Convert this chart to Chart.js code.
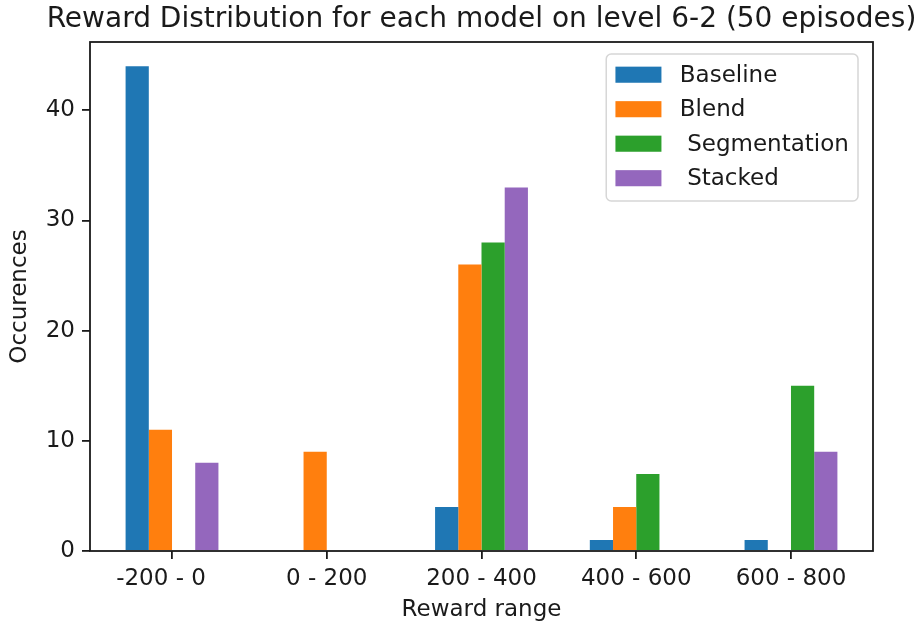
<!DOCTYPE html>
<html>
<head>
<meta charset="utf-8">
<script src="https://cdn.jsdelivr.net/npm/chart.js@4.4.0/dist/chart.umd.min.js"></script>
<style>
  html, body { margin: 0; padding: 0; background: #fff; }
  canvas { display: block; }
</style>
</head>
<body>
<canvas id="rewardChart" width="915" height="626"></canvas>
<script>
// reward bins and episode counts per model
const rewardRanges = ['-200 - 0   ', '0 - 200', '200 - 400', '400 - 600', '600 - 800'];
const modelNames = ['Baseline', 'Blend', ' Segmentation', ' Stacked'];
const baseline = [44, 0, 4, 1, 1];
const blend = [11, 9, 26, 4, 0];
const segmentation = [0, 0, 28, 7, 15];
const stacked = [8, 0, 33, 0, 9];
const yTicks = [0, 10, 20, 30, 40];

const chartTitle = 'Reward Distribution for each model on level 6-2 (50 episodes)';
const modelColors = ['#1f77b4', '#ff7f0e', '#2ca02c', '#9467bd'];
const FONT = '"DejaVu Sans", sans-serif';
const INK = '#1a1a1a';

// title centred over the axes box, plus the four spines
const axesFrame = {
    id: 'axesFrame',
    afterDraw(chart) {
        const { ctx, chartArea: a } = chart;
        ctx.save();
        ctx.strokeStyle = INK;
        ctx.lineWidth = 1.8;
        ctx.strokeRect(a.left, a.top, a.right - a.left, a.bottom - a.top);

        ctx.font = '28px ' + FONT;
        ctx.fillStyle = INK;
        ctx.textAlign = 'center';
        ctx.textBaseline = 'alphabetic';
        ctx.fillText(chartTitle, (a.left + a.right) / 2, a.top - 15);
        ctx.restore();
    }
};

// boxed legend in the upper right corner of the axes
const boxLegend = {
    id: 'boxLegend',
    afterDraw(chart) {
        const { ctx, chartArea: a } = chart;
        const fs = 23;
        ctx.save();
        ctx.font = fs + 'px ' + FONT;
        const sets = chart.data.datasets;
        const textW = Math.max(...sets.map(d => ctx.measureText(d.label).width));
        const pad = 0.4 * fs;
        const handleW = 2 * fs, handleH = 0.7 * fs;
        const gap = 0.8 * fs;
        const rowH = 1.5 * fs;
        const w = pad + handleW + gap + textW + pad;
        const h = pad * 2 + rowH * sets.length - 0.5 * fs + 2;
        const right = a.right - 15;
        const left = right - w;
        const top = a.top + 12;

        ctx.beginPath();
        ctx.roundRect(left, top, w, h, 5);
        ctx.fillStyle = 'rgba(255,255,255,0.8)';
        ctx.fill();
        ctx.strokeStyle = 'rgba(204,204,204,0.8)';
        ctx.lineWidth = 1.5;
        ctx.stroke();

        ctx.textAlign = 'left';
        ctx.textBaseline = 'middle';
        sets.forEach((d, i) => {
            const cy = top + pad + 0.5 * fs + i * rowH;
            ctx.fillStyle = d.backgroundColor;
            ctx.fillRect(left + pad, cy - handleH / 2, handleW, handleH);
            ctx.fillStyle = INK;
            ctx.fillText(d.label, left + pad + handleW + gap, cy + 1);
        });
        ctx.restore();
    }
};

const ctx = document.getElementById('rewardChart').getContext('2d');
new Chart(ctx, {
    type: 'bar',
    data: {
        datasets: [baseline, blend, segmentation, stacked].map((values, i) => ({
            label: modelNames[i],
            data: values.map((v, k) => ({ x: k, y: v })),
            backgroundColor: modelColors[i],
            borderWidth: 0,
            categoryPercentage: 0.6,
            barPercentage: 1.0
        }))
    },
    options: {
        responsive: false,
        animation: false,
        layout: { padding: { top: 42, right: 42, left: 0, bottom: 0 } },
        plugins: {
            legend: { display: false },
            title: { display: false },
            tooltip: { enabled: false }
        },
        scales: {
            x: {
                type: 'linear',
                min: -0.53,
                max: 4.53,
                offset: false,
                grid: {
                    offset: false,
                    drawOnChartArea: false,
                    color: INK,
                    lineWidth: 1.8,
                    tickLength: 8
                },
                border: { display: false },
                afterBuildTicks(scale) {
                    scale.ticks = rewardRanges.map((_, k) => ({ value: k }));
                },
                ticks: {
                    color: INK,
                    font: { family: FONT, size: 23 },
                    padding: 6,
                    maxRotation: 0,
                    autoSkip: false,
                    callback: v => rewardRanges[v]
                },
                title: {
                    display: true,
                    text: 'Reward range',
                    color: INK,
                    font: { family: FONT, size: 23 },
                    padding: { top: 0, bottom: 2 }
                },
                afterFit(scale) { scale.height = 75; }
            },
            y: {
                min: 0,
                max: 46.2,
                grid: {
                    drawOnChartArea: false,
                    color: INK,
                    lineWidth: 1.8,
                    tickLength: 8
                },
                border: { display: false },
                ticks: {
                    color: INK,
                    font: { family: FONT, size: 23 },
                    padding: 7
                },
                afterBuildTicks(scale) {
                    scale.ticks = yTicks.map(v => ({ value: v }));
                },
                title: {
                    display: true,
                    text: 'Occurences',
                    color: INK,
                    font: { family: FONT, size: 23 },
                    padding: { top: 6, bottom: 0 }
                },
                afterFit(scale) { scale.width = 90; }
            }
        }
    },
    plugins: [axesFrame, boxLegend]
});
</script>
</body>
</html>
